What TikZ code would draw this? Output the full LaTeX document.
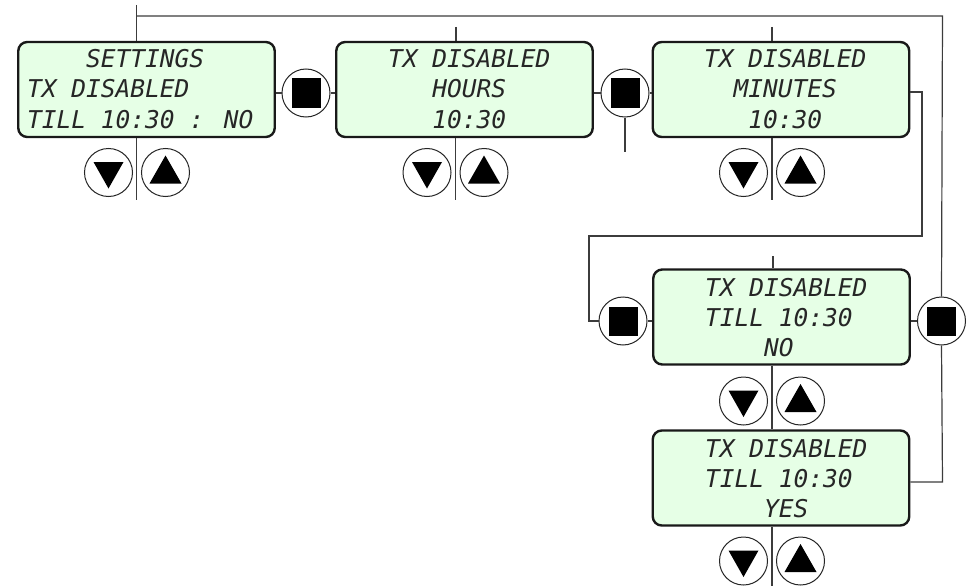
\documentclass[tikz,border=0pt]{standalone}
\usepackage{fontspec}
\newfontfamily\lcdfamily{DejaVu Sans Mono}
\definecolor{lcdgreen}{RGB}{230,255,230}
\definecolor{wiregray}{RGB}{60,60,60}
\newcommand{\lcdtext}{\lcdfamily\itshape\fontsize{24.5}{30}\selectfont}
\begin{document}
\begin{tikzpicture}[x=1pt,y=-1pt,
  lcd/.style={draw=black!90, line width=2.4pt, rounded corners=9pt, fill=lcdgreen,
    minimum width=256.5pt, minimum height=95pt, inner sep=0pt},
  txt/.style={anchor=base west, inner sep=0pt, font=\lcdtext, text=black!85},
  btn/.style={circle, draw=black!85, line width=1pt, fill=white, minimum size=48pt, inner sep=0pt},
  sqbtn/.style={btn, path picture={\fill[black] ([shift={(-14.5pt,-14.5pt)}]path picture bounding box.center) rectangle ++(29pt,29pt);}},
  dnbtn/.style={btn, path picture={\fill[black] ([shift={(-15pt,10.5pt)}]path picture bounding box.center) -- ++(30pt,0pt) -- ++(-15pt,-26.5pt) -- cycle;}},
  upbtn/.style={btn, path picture={\fill[black] ([shift={(-16pt,-11pt)}]path picture bounding box.center) -- ++(32pt,0pt) -- ++(-16pt,28pt) -- cycle;}},
  wire/.style={draw=wiregray, line width=1.2pt}]
\useasboundingbox (0,0) rectangle (972,586);

% LCD boxes
\node[lcd] (b1) at (146.5,89.5) {};
\node[lcd] (b2) at (464.5,89.5) {};
\node[lcd] (b3) at (781,89.5) {};
\node[lcd] (b4) at (781.5,317) {};
\node[lcd] (b5) at (781,478) {};

% texts
\node[txt] (t1a) at (27,68)  {\hphantom{0000}SETTINGS};
\node[txt] (t1b) at (27,98)  {TX DISABLED};
\node[txt] (t1c) at (27,128) {TILL 10:30 : NO};
\node[txt] (t2a) at (388,68)  {TX DISABLED};
\node[txt] (t2b) at (388,98)  {\hphantom{000}HOURS};
\node[txt] (t2c) at (388,128) {\hphantom{000}10:30};
\node[txt] (t3a) at (704,68)  {TX DISABLED};
\node[txt] (t3b) at (704,98)  {\hphantom{00}MINUTES};
\node[txt] (t3c) at (704,128) {\hphantom{000}10:30};
\node[txt] (t4a) at (705,296) {TX DISABLED};
\node[txt] (t4b) at (705,326) {TILL 10:30};
\node[txt] (t4c) at (705,356) {\hphantom{0000}NO};
\node[txt] (t5a) at (705,457) {TX DISABLED};
\node[txt] (t5b) at (705,487) {TILL 10:30};
\node[txt] (t5c) at (705,517) {\hphantom{0000}YES};

% square buttons
\node[sqbtn] (s1) at (306,93) {};
\node[sqbtn] (s2) at (625,93) {};
\node[sqbtn] (s4l) at (623,321) {};
\node[sqbtn] (s4r) at (941.5,321) {};

% up/down buttons
\node[dnbtn] (d1) at (108.5,172.5) {};
\node[upbtn] (u1) at (165.5,172.5) {};
\node[dnbtn] (d2) at (427,172.5) {};
\node[upbtn] (u2) at (484,172.5) {};
\node[dnbtn] (d3) at (743.5,172.5) {};
\node[upbtn] (u3) at (800.5,172.5) {};
\node[dnbtn] (d4) at (743.5,401) {};
\node[upbtn] (u4) at (800.5,401) {};
\node[dnbtn] (d5) at (743.5,561) {};
\node[upbtn] (u5) at (800.5,561) {};

% coordinates
\coordinate (top1) at (136.5,5);
\coordinate (c1) at (136.5,16);
\coordinate (c2) at (942.5,16);
\coordinate (c3) at (942.5,482);
\coordinate (tk2) at (456,27);
\coordinate (tk3) at (772,27);
\coordinate (tk4) at (773,256);
\coordinate (s2end) at (625,152);
\coordinate (r1) at (922,92);
\coordinate (r2) at (922,236);
\coordinate (r3) at (589,236);
\coordinate (r4) at (589,321);
\coordinate (dv1) at (136.5,200);
\coordinate (dv2) at (455.5,200);
\coordinate (dv3) at (772,200);
\coordinate (dv5) at (772,586);

% wires
\draw[wire] (top1) -- (top1 |- b1.north);
\draw[wire] (c1) -- (c2) -- (s4r.north);
\draw[wire] (s4r.south) -- (c3) -- (c3 -| b5.east);
\draw[wire] (tk2) -- (tk2 |- b2.north);
\draw[wire] (tk3) -- (tk3 |- b3.north);
\draw[wire] (tk4) -- (tk4 |- b4.north);
\draw[wire] (s1.west) -- (s1.west -| b1.east);
\draw[wire] (s1.east) -- (s1.east -| b2.west);
\draw[wire] (s2.west) -- (s2.west -| b2.east);
\draw[wire] (s2.east) -- (s2.east -| b3.west);
\draw[wire] (s2.south) -- (s2end);
\draw[wire] (r1 -| b3.east) -- (r1) -- (r2) -- (r3) -- (r4) -- (s4l.west);
\draw[wire] (s4l.east) -- (s4l.east -| b4.west);
\draw[wire] (s4r.west) -- (s4r.west -| b4.east);
% dividers between up/down buttons
\draw[wire] (dv1 |- b1.south) -- (dv1);
\draw[wire] (dv2 |- b2.south) -- (dv2);
\draw[wire] (dv3 |- b3.south) -- (dv3);
\draw[wire] (b4.south -| dv3) -- (b5.north -| dv3);
\draw[wire] (dv5 |- b5.south) -- (dv5);
\end{tikzpicture}
\end{document}
